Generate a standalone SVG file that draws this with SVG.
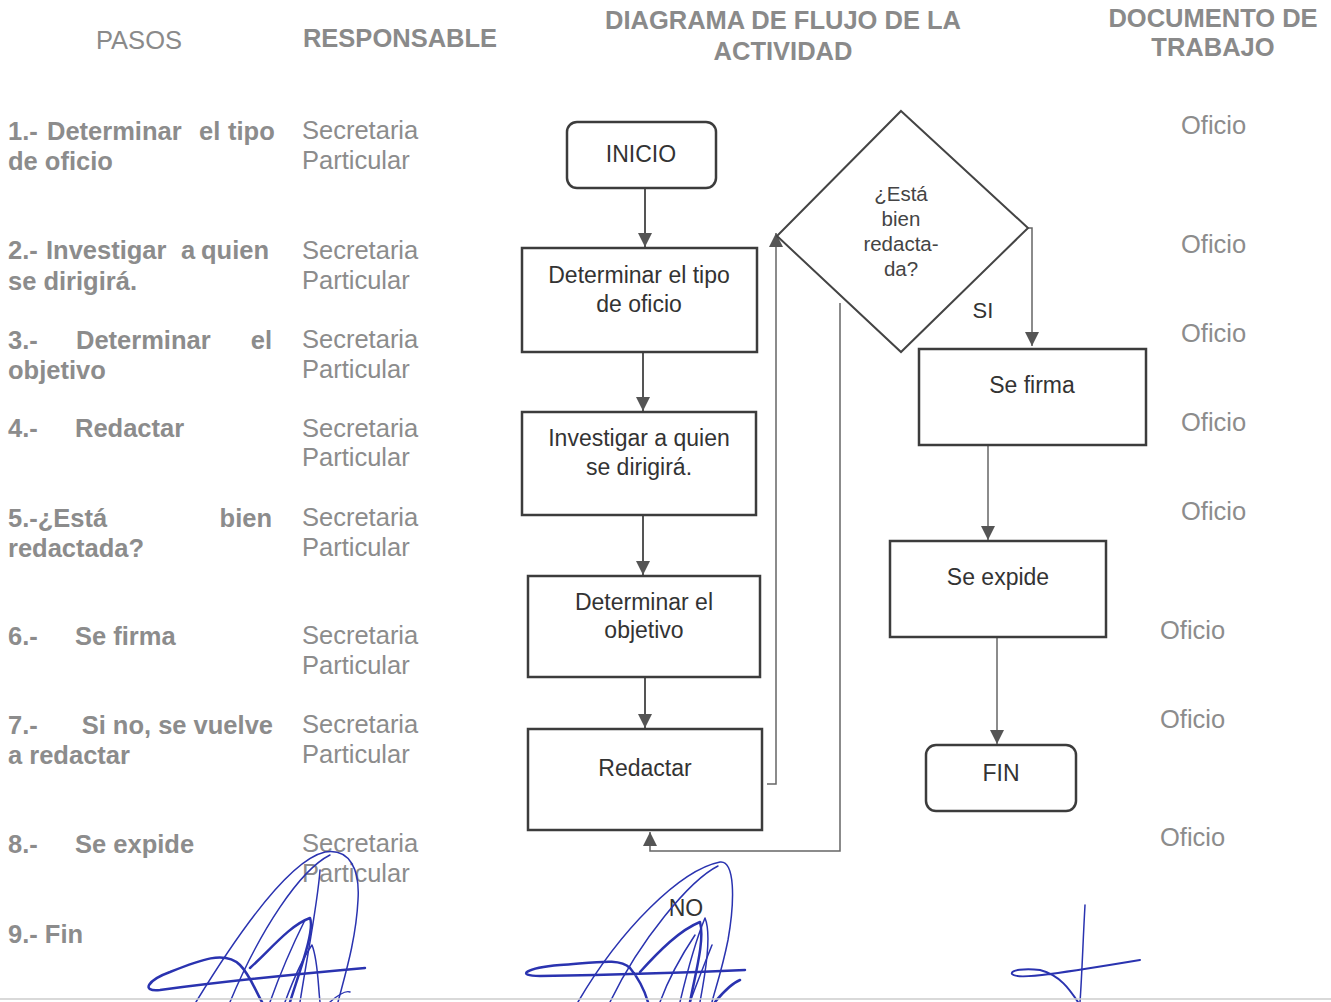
<svg xmlns="http://www.w3.org/2000/svg" width="1331" height="1002" viewBox="0 0 1331 1002">
<defs>
<marker id="ah" viewBox="0 0 10 10" refX="10" refY="5" markerWidth="14" markerHeight="14" markerUnits="userSpaceOnUse" orient="auto">
<path d="M0,0 L10,5 L0,10 z" fill="#555"/>
</marker>
<style>
.hd{font-family:"Liberation Sans",Arial,sans-serif;font-size:25.5px;fill:#8a8a8a}
.hb{font-weight:bold}
.st{font-family:"Liberation Sans",Arial,sans-serif;font-size:25.5px;font-weight:bold;fill:#8c8c8c}
.re{text-anchor:end}
.rs{font-family:"Liberation Sans",Arial,sans-serif;font-size:25.5px;fill:#8c8c8c}
.of{font-family:"Liberation Sans",Arial,sans-serif;font-size:25.5px;fill:#8c8c8c}
.box{fill:#fff;stroke:#3c3c3c;stroke-width:2.5}
.bt{font-family:"Liberation Sans",Arial,sans-serif;font-size:23px;fill:#333;text-anchor:middle}
.dt{font-family:"Liberation Sans",Arial,sans-serif;font-size:20.5px;fill:#444;text-anchor:middle}
.cn{fill:none;stroke:#555;stroke-width:2}
.cn2{fill:none;stroke:#666;stroke-width:1.5}
.sig{fill:none;stroke:#2a33b0;stroke-linecap:round;stroke-linejoin:round}
</style>
</defs>
<rect width="1331" height="1002" fill="#fff"/>

<g id="headers">
<text class="hd" x="139" y="49" text-anchor="middle">PASOS</text>
<text class="hd hb" x="400" y="47" text-anchor="middle">RESPONSABLE</text>
<text class="hd hb" x="783" y="29" text-anchor="middle">DIAGRAMA DE FLUJO DE LA</text>
<text class="hd hb" x="783" y="60" text-anchor="middle">ACTIVIDAD</text>
<text class="hd hb" x="1213" y="27" text-anchor="middle">DOCUMENTO DE</text>
<text class="hd hb" x="1213" y="56" text-anchor="middle">TRABAJO</text>
</g>

<g id="pasos">
<text class="st" x="8" y="140">1.-</text><text class="st" x="47" y="140">Determinar</text><text class="st" x="199" y="140">el</text><text class="st" x="228" y="140">tipo</text>
<text class="st" x="8" y="170">de oficio</text>
<text class="st" x="8" y="259">2.-</text><text class="st" x="46" y="259">Investigar</text><text class="st" x="181" y="259">a</text><text class="st" x="201" y="259">quien</text>
<text class="st" x="8" y="290">se dirigirá.</text>
<text class="st" x="8" y="349">3.-</text><text class="st" x="76" y="349">Determinar</text><text class="st re" x="272" y="349">el</text>
<text class="st" x="8" y="379">objetivo</text>
<text class="st" x="8" y="437">4.-</text><text class="st" x="75" y="437">Redactar</text>
<text class="st" x="8" y="527">5.-¿Está</text><text class="st re" x="272" y="527">bien</text>
<text class="st" x="8" y="557">redactada?</text>
<text class="st" x="8" y="645">6.-</text><text class="st" x="75" y="645">Se firma</text>
<text class="st" x="8" y="734">7.-</text><text class="st re" x="273" y="734">Si no, se vuelve</text>
<text class="st" x="8" y="764">a redactar</text>
<text class="st" x="8" y="853">8.-</text><text class="st" x="75" y="853">Se expide</text>
<text class="st" x="8" y="943">9.- Fin</text>
</g>

<g id="responsable">
<text class="rs" x="302" y="139">Secretaria</text><text class="rs" x="302" y="169">Particular</text>
<text class="rs" x="302" y="259">Secretaria</text><text class="rs" x="302" y="289">Particular</text>
<text class="rs" x="302" y="348">Secretaria</text><text class="rs" x="302" y="378">Particular</text>
<text class="rs" x="302" y="437">Secretaria</text><text class="rs" x="302" y="466">Particular</text>
<text class="rs" x="302" y="526">Secretaria</text><text class="rs" x="302" y="556">Particular</text>
<text class="rs" x="302" y="644">Secretaria</text><text class="rs" x="302" y="674">Particular</text>
<text class="rs" x="302" y="733">Secretaria</text><text class="rs" x="302" y="763">Particular</text>
<text class="rs" x="302" y="852">Secretaria</text><text class="rs" x="302" y="882">Particular</text>
</g>

<g id="documento">
<text class="of" x="1181" y="134">Oficio</text>
<text class="of" x="1181" y="253">Oficio</text>
<text class="of" x="1181" y="342">Oficio</text>
<text class="of" x="1181" y="431">Oficio</text>
<text class="of" x="1181" y="520">Oficio</text>
<text class="of" x="1160" y="639">Oficio</text>
<text class="of" x="1160" y="728">Oficio</text>
<text class="of" x="1160" y="846">Oficio</text>
</g>

<g id="connectors">
<path class="cn" d="M645,188 V247" marker-end="url(#ah)"/>
<path class="cn" d="M643,352 V411" marker-end="url(#ah)"/>
<path class="cn" d="M643,516 V575" marker-end="url(#ah)"/>
<path class="cn" d="M645,677 V728" marker-end="url(#ah)"/>
<path class="cn2" d="M767,784 H776 V233" marker-end="url(#ah)"/>
<path class="cn2" d="M1028,228 H1032 V346" marker-end="url(#ah)"/>
<path class="cn2" d="M840,303 V851 H650 V832" marker-end="url(#ah)"/>
<path class="cn2" d="M988,440 V540" marker-end="url(#ah)"/>
<path class="cn2" d="M997,637 V744" marker-end="url(#ah)"/>
<text class="bt" x="983" y="318" style="font-size:22px">SI</text>
<text class="bt" x="686" y="916">NO</text>
</g>

<g id="n-inicio">
<rect class="box" x="567" y="122" width="149" height="66" rx="10"/>
<text class="bt" x="641" y="162">INICIO</text>
</g>
<g id="n-tipo">
<rect class="box" x="522" y="248" width="235" height="104"/>
<text class="bt" x="639" y="283">Determinar el tipo</text>
<text class="bt" x="639" y="312">de oficio</text>
</g>
<g id="n-investigar">
<rect class="box" x="522" y="412" width="234" height="103"/>
<text class="bt" x="639" y="446">Investigar a quien</text>
<text class="bt" x="639" y="475">se dirigirá.</text>
</g>
<g id="n-objetivo">
<rect class="box" x="528" y="576" width="232" height="101"/>
<text class="bt" x="644" y="610">Determinar el</text>
<text class="bt" x="644" y="638">objetivo</text>
</g>
<g id="n-redactar">
<rect class="box" x="528" y="729" width="234" height="101"/>
<text class="bt" x="645" y="776">Redactar</text>
</g>
<g id="n-decision">
<polygon points="901,111 1028,228 901,352 777,236" fill="#fff" stroke="#444" stroke-width="2"/>
<text class="dt" x="901" y="201">¿Está</text>
<text class="dt" x="901" y="226">bien</text>
<text class="dt" x="901" y="251">redacta-</text>
<text class="dt" x="901" y="276">da?</text>
</g>
<g id="n-firma">
<rect class="box" x="919" y="349" width="227" height="96"/>
<text class="bt" x="1032" y="393">Se firma</text>
</g>
<g id="n-expide">
<rect class="box" x="890" y="541" width="216" height="96"/>
<text class="bt" x="998" y="585">Se expide</text>
</g>
<g id="n-fin">
<rect class="box" x="926" y="745" width="150" height="66" rx="10"/>
<text class="bt" x="1001" y="781">FIN</text>
</g>

<g id="signatures">
<path class="sig" stroke-width="1.5" d="M196,1002 C240,930 290,860 325,852 C350,848 360,870 358,900 C356,940 345,975 338,1002"/>
<path class="sig" stroke-width="1.5" d="M230,1002 C260,930 300,870 330,855 M300,1002 C310,940 318,900 320,870"/>
<path class="sig" stroke-width="2.5" d="M365,968 C320,972 220,982 160,990 C140,992 148,980 170,972 C200,960 225,950 240,965 C250,975 255,990 262,1002"/>
<path class="sig" stroke-width="2.5" d="M250,968 C270,950 290,925 310,918 C315,930 300,970 290,1002"/>
<path class="sig" stroke-width="1.5" d="M270,1002 C285,960 300,930 305,920 M285,1002 C295,975 305,955 312,945 C318,960 318,985 320,1002 M330,1002 C338,995 345,990 350,992"/>
<path class="sig" stroke-width="1.5" d="M578,1002 C620,930 680,870 720,862 C735,860 735,900 728,940 C722,970 715,990 712,1002"/>
<path class="sig" stroke-width="1.5" d="M610,1002 C640,940 690,880 718,866 M680,1002 C690,960 700,930 705,918 C712,935 705,975 700,1002"/>
<path class="sig" stroke-width="2.5" d="M745,970 C700,972 600,975 540,976 C515,976 525,968 560,965 C600,962 620,958 630,968 C640,980 645,992 648,1002"/>
<path class="sig" stroke-width="2.5" d="M640,972 C660,950 680,930 700,922 C705,940 695,975 690,1002 M715,1002 C725,990 735,982 740,980"/>
<path class="sig" stroke-width="1.5" d="M660,1002 C670,975 685,950 695,935 M690,1002 C700,975 708,955 712,945"/>
<path class="sig" stroke-width="1.5" d="M1085,905 C1083,940 1082,975 1080,1002"/>
<path class="sig" stroke-width="2" d="M1140,960 C1110,965 1080,970 1050,974 C1035,976 1015,978 1012,974 C1010,970 1025,968 1040,970 C1060,975 1070,990 1078,1002"/>
</g>
<line x1="0" y1="999" x2="1331" y2="999" stroke="#ccc" stroke-width="1.5"/>
</svg>
